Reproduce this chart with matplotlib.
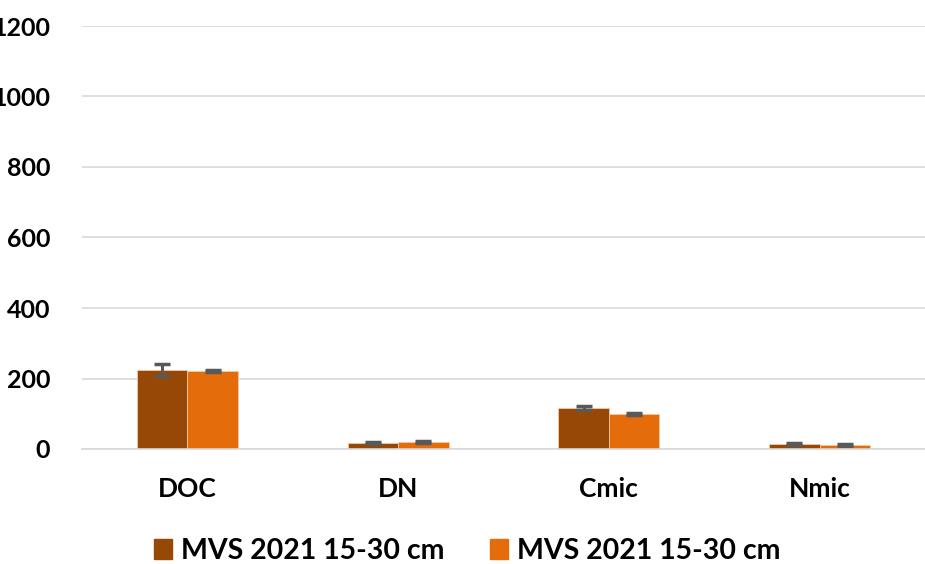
import numpy as np
import matplotlib.pyplot as plt
from matplotlib.patches import Patch

categorias = ['DOC', 'DN', 'Cmic', 'Nmic']
serie1 = [224, 17, 116, 14]
err1 = [18, 2, 5, 2]
serie2 = [221, 20, 99, 11]
err2 = [2, 3, 2, 2]
etiquetas = ['MVS 2021 15-30 cm', 'MVS 2021 15-30 cm']
yticks = [0, 200, 400, 600, 800, 1000, 1200]

plt.rcParams['font.family'] = ['Lato', 'DejaVu Sans']
plt.rcParams['font.weight'] = 'bold'

fig = plt.figure(figsize=(9.25, 5.64), dpi=100)
ax = fig.add_axes([82/925, 115/564, 1 - 82/925, 423/564])

x = np.arange(len(categorias))
w = 0.24
c1 = '#974706'
c2 = '#E46C0A'
ekw = dict(ecolor='#595959', elinewidth=2.2, capsize=6, capthick=2.5)
ax.bar(x - w/2, serie1, w, color=c1, edgecolor='#f3c9a5', linewidth=0.6,
       yerr=err1, error_kw=ekw)
ax.bar(x + w/2, serie2, w, color=c2, edgecolor='#f6c7a0', linewidth=0.6,
       yerr=err2, error_kw=ekw)

ax.set_xlim(-0.5, 3.5)
ax.set_ylim(0, 1200)
ax.set_yticks(yticks)
ax.set_yticklabels([str(v) for v in yticks], fontsize=18, fontweight='bold')
ax.set_xticks(x)
ax.set_xticklabels(categorias, fontsize=19, fontweight='bold')
ax.tick_params(axis='both', length=0)
ax.tick_params(axis='y', pad=23)
ax.tick_params(axis='x', pad=20)
ax.grid(axis='y', color='#d9d9d9', linewidth=1.2)
ax.set_axisbelow(True)
for s in ['top', 'right', 'left']:
    ax.spines[s].set_visible(False)
ax.spines['bottom'].set_color('#d9d9d9')
ax.spines['bottom'].set_linewidth(1.2)

handles = [Patch(color=c1), Patch(color=c2)]
fig.legend(handles, etiquetas, loc='center', bbox_to_anchor=(467/925, 1 - 551/564),
           ncol=2, frameon=False, handlelength=0.65, handleheight=0.65,
           handletextpad=0.3, columnspacing=1.6, prop={'weight': 'bold', 'size': 20.5})

fig.savefig('out.png', dpi=100)
